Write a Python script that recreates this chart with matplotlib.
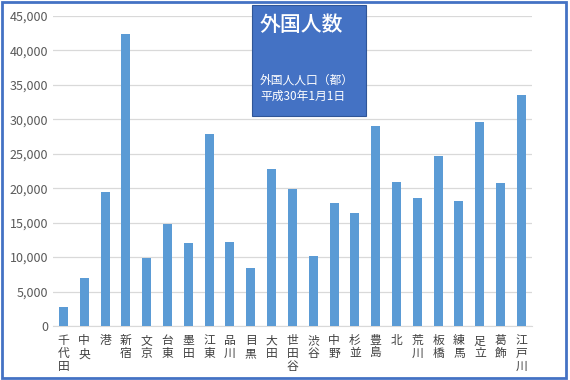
import matplotlib
matplotlib.use("Agg")
import matplotlib.pyplot as plt
import matplotlib.patches as patches
import numpy as np

plt.rcParams['font.family'] = ['Noto Sans CJK JP', 'DejaVu Sans']

# 区別の外国人数（平成30年1月1日）
wards = ["千代田", "中央", "港", "新宿", "文京", "台東", "墨田", "江東", "品川", "目黒",
         "大田", "世田谷", "渋谷", "中野", "杉並", "豊島", "北", "荒川", "板橋", "練馬",
         "足立", "葛飾", "江戸川"]
counts = [2800, 6950, 19500, 42400, 9850, 14850, 12050, 27900, 12150, 8450,
          22800, 19950, 10150, 17900, 16350, 29000, 20950, 18550, 24650, 18200,
          29650, 20700, 33500]
yticks = [0, 5000, 10000, 15000, 20000, 25000, 30000, 35000, 40000, 45000]

fig = plt.figure(figsize=(5.7, 3.8), dpi=100)
ax = fig.add_axes([0.093, 0.142, 0.840, 0.816])

x = np.arange(len(wards))
ax.bar(x, counts, width=0.43, color="#5B9BD5", zorder=3)

ax.set_xlim(-0.5, len(wards) - 0.5)
ax.set_ylim(0, 45000)
ax.set_yticks(yticks)
ax.set_yticklabels([f"{v:,}" for v in yticks], color="#595959", fontsize=9)
ax.set_xticks(x)
ax.set_xticklabels(["\n".join(w) for w in wards], color="#404040", fontsize=8.5,
                   linespacing=1.0, va="top")
ax.tick_params(axis="both", length=0)
ax.tick_params(axis="x", pad=6)
ax.grid(axis="y", color="#D9D9D9", linewidth=0.9, zorder=0)
for s in ["top", "right", "left"]:
    ax.spines[s].set_visible(False)
ax.spines["bottom"].set_color("#D9D9D9")

# タイトルボックス
box = patches.Rectangle((252 / 570, 1 - 116 / 380), 114 / 570, 111 / 380,
                        transform=fig.transFigure, facecolor="#4472C4",
                        edgecolor="#2F5597", linewidth=0.8, zorder=5)
fig.patches.append(box)
fig.text(260 / 570, 1 - 25 / 380, "外国人数", color="white", fontsize=15,
         fontweight="medium", va="center", ha="left", zorder=6)
fig.text(260 / 570, 1 - 80 / 380, "外国人人口（都）", color="white", fontsize=8.5,
         va="center", ha="left", zorder=6)
fig.text(260 / 570, 1 - 96 / 380, "平成30年1月1日", color="white", fontsize=8.5,
         va="center", ha="left", zorder=6)

# 外枠
frame = patches.Rectangle((0.003, 0.005), 0.990, 0.990, transform=fig.transFigure,
                          facecolor="none", edgecolor="#4472C4", linewidth=2)
fig.patches.append(frame)

fig.savefig("out.png", dpi=100)
